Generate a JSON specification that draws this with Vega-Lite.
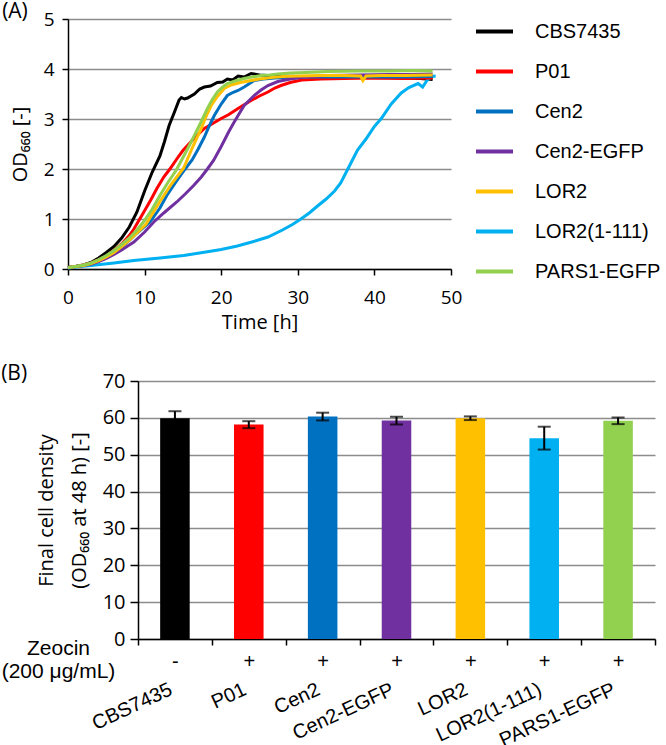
{
  "$schema": "https://vega.github.io/schema/vega-lite/v6.json",
  "padding": {"left": 1, "top": 1, "right": 0, "bottom": 0},
  "background": "white",
  "config": {
    "view": {"stroke": null},
    "font": "Open Sans",
    "axis": {"labelColor": "black", "titleColor": "black", "titleFontWeight": "normal", "domainColor": "black", "domainWidth": 1.5, "tickColor": "black", "tickWidth": 1.5, "gridColor": "#8c8c8c", "gridWidth": 1.5}
  },
  "datasets": {
    "growth": [
      {"strain":"CBS7435","time":0,"od":0.03},{"strain":"CBS7435","time":1,"od":0.05},{"strain":"CBS7435","time":2,"od":0.08},{"strain":"CBS7435","time":3,"od":0.13},{"strain":"CBS7435","time":4,"od":0.22},{"strain":"CBS7435","time":5,"od":0.33},{"strain":"CBS7435","time":6,"od":0.45},{"strain":"CBS7435","time":7,"od":0.62},{"strain":"CBS7435","time":8,"od":0.84},{"strain":"CBS7435","time":9,"od":1.14},{"strain":"CBS7435","time":10,"od":1.56},{"strain":"CBS7435","time":11,"od":1.94},{"strain":"CBS7435","time":12,"od":2.26},{"strain":"CBS7435","time":12.6,"od":2.55},{"strain":"CBS7435","time":13.2,"od":2.87},{"strain":"CBS7435","time":13.9,"od":3.14},{"strain":"CBS7435","time":14.5,"od":3.38},{"strain":"CBS7435","time":14.8,"od":3.43},{"strain":"CBS7435","time":15.2,"od":3.4},{"strain":"CBS7435","time":15.6,"od":3.42},{"strain":"CBS7435","time":16.5,"od":3.5},{"strain":"CBS7435","time":17.2,"od":3.6},{"strain":"CBS7435","time":17.8,"od":3.64},{"strain":"CBS7435","time":18.6,"od":3.66},{"strain":"CBS7435","time":19.5,"od":3.73},{"strain":"CBS7435","time":20.2,"od":3.74},{"strain":"CBS7435","time":20.8,"od":3.8},{"strain":"CBS7435","time":21.5,"od":3.78},{"strain":"CBS7435","time":22.2,"od":3.86},{"strain":"CBS7435","time":23,"od":3.84},{"strain":"CBS7435","time":23.9,"od":3.91},{"strain":"CBS7435","time":25,"od":3.88},{"strain":"CBS7435","time":27,"od":3.86},{"strain":"CBS7435","time":30,"od":3.85},{"strain":"CBS7435","time":33,"od":3.84},{"strain":"CBS7435","time":36,"od":3.83},{"strain":"CBS7435","time":40,"od":3.83},{"strain":"CBS7435","time":44,"od":3.82},{"strain":"CBS7435","time":46,"od":3.81},{"strain":"CBS7435","time":47.6,"od":3.79},
      {"strain":"LOR2(1-111)","time":0,"od":0.02},{"strain":"LOR2(1-111)","time":1,"od":0.04},{"strain":"LOR2(1-111)","time":3,"od":0.07},{"strain":"LOR2(1-111)","time":6,"od":0.12},{"strain":"LOR2(1-111)","time":8.6,"od":0.17},{"strain":"LOR2(1-111)","time":12,"od":0.22},{"strain":"LOR2(1-111)","time":15.1,"od":0.27},{"strain":"LOR2(1-111)","time":18,"od":0.34},{"strain":"LOR2(1-111)","time":20,"od":0.39},{"strain":"LOR2(1-111)","time":22.1,"od":0.46},{"strain":"LOR2(1-111)","time":24,"od":0.54},{"strain":"LOR2(1-111)","time":26.1,"od":0.64},{"strain":"LOR2(1-111)","time":28,"od":0.78},{"strain":"LOR2(1-111)","time":29.3,"od":0.89},{"strain":"LOR2(1-111)","time":30.4,"od":1.0},{"strain":"LOR2(1-111)","time":31.5,"od":1.12},{"strain":"LOR2(1-111)","time":32.5,"od":1.25},{"strain":"LOR2(1-111)","time":33.7,"od":1.4},{"strain":"LOR2(1-111)","time":34.8,"od":1.56},{"strain":"LOR2(1-111)","time":35.6,"od":1.72},{"strain":"LOR2(1-111)","time":36.7,"od":2.05},{"strain":"LOR2(1-111)","time":37.8,"od":2.38},{"strain":"LOR2(1-111)","time":38.9,"od":2.6},{"strain":"LOR2(1-111)","time":40,"od":2.85},{"strain":"LOR2(1-111)","time":40.9,"od":3.01},{"strain":"LOR2(1-111)","time":42.2,"od":3.3},{"strain":"LOR2(1-111)","time":43.5,"od":3.52},{"strain":"LOR2(1-111)","time":44.5,"od":3.63},{"strain":"LOR2(1-111)","time":45.7,"od":3.71},{"strain":"LOR2(1-111)","time":46.3,"od":3.64},{"strain":"LOR2(1-111)","time":46.9,"od":3.78},{"strain":"LOR2(1-111)","time":47.5,"od":3.85},{"strain":"LOR2(1-111)","time":48,"od":3.86},
      {"strain":"P01","time":0,"od":0.03},{"strain":"P01","time":1,"od":0.05},{"strain":"P01","time":2,"od":0.08},{"strain":"P01","time":3,"od":0.12},{"strain":"P01","time":4,"od":0.18},{"strain":"P01","time":5,"od":0.26},{"strain":"P01","time":6,"od":0.37},{"strain":"P01","time":7,"od":0.5},{"strain":"P01","time":8,"od":0.67},{"strain":"P01","time":8.6,"od":0.8},{"strain":"P01","time":9.9,"od":1.14},{"strain":"P01","time":10.8,"od":1.38},{"strain":"P01","time":11.6,"od":1.61},{"strain":"P01","time":12.5,"od":1.84},{"strain":"P01","time":13.3,"od":2.0},{"strain":"P01","time":14.2,"od":2.2},{"strain":"P01","time":15,"od":2.37},{"strain":"P01","time":15.6,"od":2.47},{"strain":"P01","time":16.5,"od":2.62},{"strain":"P01","time":17.8,"od":2.81},{"strain":"P01","time":19,"od":2.92},{"strain":"P01","time":20,"od":3.01},{"strain":"P01","time":21,"od":3.09},{"strain":"P01","time":22.2,"od":3.21},{"strain":"P01","time":23.9,"od":3.37},{"strain":"P01","time":25,"od":3.46},{"strain":"P01","time":26.1,"od":3.54},{"strain":"P01","time":27,"od":3.62},{"strain":"P01","time":27.8,"od":3.67},{"strain":"P01","time":29,"od":3.73},{"strain":"P01","time":30.5,"od":3.78},{"strain":"P01","time":33,"od":3.8},{"strain":"P01","time":36,"od":3.81},{"strain":"P01","time":40,"od":3.82},{"strain":"P01","time":44,"od":3.81},{"strain":"P01","time":47.6,"od":3.82},
      {"strain":"Cen2","time":0,"od":0.03},{"strain":"Cen2","time":1,"od":0.05},{"strain":"Cen2","time":2,"od":0.07},{"strain":"Cen2","time":3,"od":0.1},{"strain":"Cen2","time":4,"od":0.16},{"strain":"Cen2","time":5,"od":0.23},{"strain":"Cen2","time":6,"od":0.32},{"strain":"Cen2","time":7,"od":0.44},{"strain":"Cen2","time":8,"od":0.57},{"strain":"Cen2","time":9,"od":0.72},{"strain":"Cen2","time":10,"od":0.85},{"strain":"Cen2","time":10.7,"od":0.94},{"strain":"Cen2","time":12,"od":1.22},{"strain":"Cen2","time":12.9,"od":1.47},{"strain":"Cen2","time":14,"od":1.72},{"strain":"Cen2","time":15.2,"od":1.98},{"strain":"Cen2","time":16.2,"od":2.18},{"strain":"Cen2","time":17,"od":2.4},{"strain":"Cen2","time":17.8,"od":2.64},{"strain":"Cen2","time":18.5,"od":2.88},{"strain":"Cen2","time":19.1,"od":3.07},{"strain":"Cen2","time":20,"od":3.3},{"strain":"Cen2","time":20.8,"od":3.47},{"strain":"Cen2","time":21.5,"od":3.53},{"strain":"Cen2","time":22.2,"od":3.57},{"strain":"Cen2","time":23,"od":3.64},{"strain":"Cen2","time":23.6,"od":3.7},{"strain":"Cen2","time":24.3,"od":3.77},{"strain":"Cen2","time":25.5,"od":3.8},{"strain":"Cen2","time":27,"od":3.82},{"strain":"Cen2","time":30,"od":3.84},{"strain":"Cen2","time":35,"od":3.84},{"strain":"Cen2","time":40,"od":3.84},{"strain":"Cen2","time":44,"od":3.84},{"strain":"Cen2","time":47.6,"od":3.85},
      {"strain":"Cen2-EGFP","time":0,"od":0.03},{"strain":"Cen2-EGFP","time":1,"od":0.05},{"strain":"Cen2-EGFP","time":2,"od":0.07},{"strain":"Cen2-EGFP","time":3,"od":0.1},{"strain":"Cen2-EGFP","time":4,"od":0.15},{"strain":"Cen2-EGFP","time":5,"od":0.21},{"strain":"Cen2-EGFP","time":6,"od":0.29},{"strain":"Cen2-EGFP","time":7,"od":0.38},{"strain":"Cen2-EGFP","time":8,"od":0.48},{"strain":"Cen2-EGFP","time":8.6,"od":0.54},{"strain":"Cen2-EGFP","time":10,"od":0.74},{"strain":"Cen2-EGFP","time":11.2,"od":0.94},{"strain":"Cen2-EGFP","time":12.5,"od":1.12},{"strain":"Cen2-EGFP","time":14.2,"od":1.34},{"strain":"Cen2-EGFP","time":15.3,"od":1.5},{"strain":"Cen2-EGFP","time":16.4,"od":1.67},{"strain":"Cen2-EGFP","time":17.4,"od":1.84},{"strain":"Cen2-EGFP","time":18.2,"od":2.0},{"strain":"Cen2-EGFP","time":19,"od":2.17},{"strain":"Cen2-EGFP","time":20,"od":2.45},{"strain":"Cen2-EGFP","time":21,"od":2.75},{"strain":"Cen2-EGFP","time":21.7,"od":2.94},{"strain":"Cen2-EGFP","time":22.4,"od":3.12},{"strain":"Cen2-EGFP","time":23,"od":3.27},{"strain":"Cen2-EGFP","time":24.3,"od":3.47},{"strain":"Cen2-EGFP","time":25.2,"od":3.58},{"strain":"Cen2-EGFP","time":26.1,"od":3.67},{"strain":"Cen2-EGFP","time":27.4,"od":3.75},{"strain":"Cen2-EGFP","time":29,"od":3.8},{"strain":"Cen2-EGFP","time":31,"od":3.84},{"strain":"Cen2-EGFP","time":34,"od":3.87},{"strain":"Cen2-EGFP","time":38,"od":3.88},{"strain":"Cen2-EGFP","time":42,"od":3.89},{"strain":"Cen2-EGFP","time":45,"od":3.89},{"strain":"Cen2-EGFP","time":47.6,"od":3.9},
      {"strain":"LOR2","time":0,"od":0.03},{"strain":"LOR2","time":1,"od":0.05},{"strain":"LOR2","time":2,"od":0.07},{"strain":"LOR2","time":3,"od":0.11},{"strain":"LOR2","time":4,"od":0.17},{"strain":"LOR2","time":5,"od":0.24},{"strain":"LOR2","time":6,"od":0.33},{"strain":"LOR2","time":7,"od":0.45},{"strain":"LOR2","time":8,"od":0.58},{"strain":"LOR2","time":9,"od":0.72},{"strain":"LOR2","time":10.2,"od":0.9},{"strain":"LOR2","time":11,"od":1.1},{"strain":"LOR2","time":12,"od":1.35},{"strain":"LOR2","time":13.5,"od":1.7},{"strain":"LOR2","time":14.3,"od":1.86},{"strain":"LOR2","time":15.1,"od":2.02},{"strain":"LOR2","time":16.3,"od":2.45},{"strain":"LOR2","time":17.4,"od":2.81},{"strain":"LOR2","time":18.1,"od":3.08},{"strain":"LOR2","time":18.7,"od":3.27},{"strain":"LOR2","time":19.5,"od":3.45},{"strain":"LOR2","time":20.4,"od":3.61},{"strain":"LOR2","time":21.3,"od":3.68},{"strain":"LOR2","time":22.5,"od":3.73},{"strain":"LOR2","time":23.9,"od":3.77},{"strain":"LOR2","time":25,"od":3.8},{"strain":"LOR2","time":26.5,"od":3.83},{"strain":"LOR2","time":28,"od":3.85},{"strain":"LOR2","time":30,"od":3.86},{"strain":"LOR2","time":33,"od":3.87},{"strain":"LOR2","time":36,"od":3.87},{"strain":"LOR2","time":38.2,"od":3.86},{"strain":"LOR2","time":38.5,"od":3.77},{"strain":"LOR2","time":38.9,"od":3.86},{"strain":"LOR2","time":41,"od":3.87},{"strain":"LOR2","time":44,"od":3.87},{"strain":"LOR2","time":47.6,"od":3.88},
      {"strain":"PARS1-EGFP","time":0,"od":0.03},{"strain":"PARS1-EGFP","time":1,"od":0.05},{"strain":"PARS1-EGFP","time":2,"od":0.08},{"strain":"PARS1-EGFP","time":3,"od":0.12},{"strain":"PARS1-EGFP","time":4,"od":0.19},{"strain":"PARS1-EGFP","time":5,"od":0.27},{"strain":"PARS1-EGFP","time":6,"od":0.37},{"strain":"PARS1-EGFP","time":7,"od":0.49},{"strain":"PARS1-EGFP","time":8,"od":0.62},{"strain":"PARS1-EGFP","time":9,"od":0.78},{"strain":"PARS1-EGFP","time":9.9,"od":0.95},{"strain":"PARS1-EGFP","time":11,"od":1.2},{"strain":"PARS1-EGFP","time":12,"od":1.47},{"strain":"PARS1-EGFP","time":13,"od":1.72},{"strain":"PARS1-EGFP","time":14.1,"od":1.97},{"strain":"PARS1-EGFP","time":14.7,"od":2.14},{"strain":"PARS1-EGFP","time":15.6,"od":2.4},{"strain":"PARS1-EGFP","time":16.5,"od":2.67},{"strain":"PARS1-EGFP","time":17.4,"od":2.95},{"strain":"PARS1-EGFP","time":18.2,"od":3.21},{"strain":"PARS1-EGFP","time":18.8,"od":3.38},{"strain":"PARS1-EGFP","time":19.5,"od":3.54},{"strain":"PARS1-EGFP","time":20.2,"od":3.64},{"strain":"PARS1-EGFP","time":20.8,"od":3.71},{"strain":"PARS1-EGFP","time":21.8,"od":3.76},{"strain":"PARS1-EGFP","time":23,"od":3.81},{"strain":"PARS1-EGFP","time":24,"od":3.84},{"strain":"PARS1-EGFP","time":25.2,"od":3.87},{"strain":"PARS1-EGFP","time":26.3,"od":3.88},{"strain":"PARS1-EGFP","time":27.4,"od":3.9},{"strain":"PARS1-EGFP","time":29,"od":3.92},{"strain":"PARS1-EGFP","time":31,"od":3.93},{"strain":"PARS1-EGFP","time":34,"od":3.95},{"strain":"PARS1-EGFP","time":38,"od":3.96},{"strain":"PARS1-EGFP","time":42,"od":3.96},{"strain":"PARS1-EGFP","time":45,"od":3.97},{"strain":"PARS1-EGFP","time":47.6,"od":3.96}
    ],
    "final": [
      {"strain":"CBS7435","zeocin":"-","mean":59.9,"lo":58.0,"hi":61.8},
      {"strain":"P01","zeocin":"+","mean":58.2,"lo":57.2,"hi":59.1},
      {"strain":"Cen2","zeocin":"+","mean":60.4,"lo":59.3,"hi":61.4},
      {"strain":"Cen2-EGFP","zeocin":"+","mean":59.3,"lo":58.2,"hi":60.3},
      {"strain":"LOR2","zeocin":"+","mean":59.9,"lo":59.4,"hi":60.4},
      {"strain":"LOR2(1-111)","zeocin":"+","mean":54.5,"lo":51.4,"hi":57.6},
      {"strain":"PARS1-EGFP","zeocin":"+","mean":59.2,"lo":58.3,"hi":60.1}
    ]
  },
  "vconcat": [
    {
      "width": 383,
      "height": 250,
      "title": {"text": "(A)", "anchor": "start", "fontSize": 21, "fontWeight": "normal", "font": "Open Sans", "color": "black", "offset": 0, "dx": -8, "dy": 12},
      "data": {"name": "growth"},
      "mark": {"type": "line", "strokeWidth": 3},
      "encoding": {
        "x": {"field": "time", "type": "quantitative", "scale": {"domain": [0, 50], "nice": false},
          "axis": {"values": [0, 10, 20, 30, 40, 50], "grid": false, "tickSize": 6, "labelFontSize": 19, "labelPadding": 13, "labelFlush": false, "title": "Time [h]", "titleFontSize": 20, "titlePadding": 5}},
        "y": {"field": "od", "type": "quantitative", "scale": {"domain": [0, 5], "nice": false},
          "axis": {"values": [0, 1, 2, 3, 4, 5], "grid": true, "tickSize": 6, "labelFontSize": 19, "labelPadding": 8, "labelFlush": false, "title": "OD₆₆₀ [-]", "titleFontSize": 20, "titlePadding": 13}},
        "color": {"field": "strain", "type": "nominal",
          "scale": {"domain": ["CBS7435", "P01", "Cen2", "Cen2-EGFP", "LOR2", "LOR2(1-111)", "PARS1-EGFP"], "range": ["#000000", "#FF0000", "#0070C0", "#7030A0", "#FFC000", "#00B0F0", "#92D050"]},
          "legend": {"title": null, "orient": "none", "legendX": 406, "legendY": -8, "padding": 0, "symbolType": "stroke", "symbolSize": 1369, "symbolStrokeWidth": 4, "labelFont": "Liberation Sans", "labelFontSize": 20, "labelColor": "black", "labelOffset": 20, "rowPadding": 9, "labelLimit": 200}}
      }
    },
    {
      "width": 587,
      "height": 258,
      "title": {"text": "(B)", "anchor": "start", "fontSize": 21, "fontWeight": "normal", "font": "Open Sans", "color": "black", "offset": 0, "dy": 13},
      "data": {"name": "final"},
      "layer": [
        {
          "mark": {"type": "bar", "width": {"band": 0.4}},
          "encoding": {
            "x": {"field": "strain", "type": "nominal", "sort": null, "scale": {"paddingInner": 0, "paddingOuter": 0, "range": [70, 587]},
              "axis": {"orient": "bottom", "tickBand": "extent", "tickSize": 6, "grid": false, "labelAngle": 0, "labelExpr": "datum.value == 'CBS7435' ? '-' : (datum.value ? '+' : '')", "labelFont": "Liberation Sans", "labelFontSize": 20, "labelPadding": 6, "labelBaseline": "top",
                "title": ["Zeocin", "(200 μg/mL)"], "titleX": -10, "titleY": -2, "titleAlign": "center", "titleBaseline": "top", "titleAngle": 0, "titleFont": "Liberation Sans", "titleFontSize": 21, "titleLineHeight": 23}},
            "y": {"field": "mean", "type": "quantitative", "scale": {"domain": [0, 70], "nice": false},
              "axis": {"offset": -70, "values": [0, 10, 20, 30, 40, 50, 60, 70], "labelOverlap": false, "grid": true, "tickSize": 8, "labelFontSize": 20, "labelPadding": 5, "title": ["Final cell density", "(OD₆₆₀ at 48 h) [-]"], "titleFontSize": 20, "titleLineHeight": 33, "titlePadding": 13}},
            "color": {"field": "strain", "type": "nominal", "legend": null,
              "scale": {"domain": ["CBS7435", "P01", "Cen2", "Cen2-EGFP", "LOR2", "LOR2(1-111)", "PARS1-EGFP"], "range": ["#000000", "#FF0000", "#0070C0", "#7030A0", "#FFC000", "#00B0F0", "#92D050"]}}
          }
        },
        {
          "mark": {"type": "rule", "color": "black", "strokeWidth": 2},
          "encoding": {
            "x": {"field": "strain", "type": "nominal", "sort": null,
              "axis": {"orient": "bottom", "domain": false, "ticks": false, "grid": false, "labelAngle": -25, "labelAlign": "right", "labelBaseline": "top", "labelPadding": 40, "labelOffset": -8, "labelFont": "Liberation Sans", "labelFontSize": 20, "labelLimit": 300, "labelOverlap": false, "title": null}},
            "y": {"field": "lo", "type": "quantitative",
              "axis": {"offset": -70, "values": [0, 10, 20, 30, 40, 50, 60, 70], "labelOverlap": false, "grid": true, "tickSize": 8, "labelFontSize": 20, "labelPadding": 5, "title": ["Final cell density", "(OD₆₆₀ at 48 h) [-]"], "titleFontSize": 20, "titleLineHeight": 33, "titlePadding": 13}},
            "y2": {"field": "hi"}
          }
        },
        {
          "mark": {"type": "tick", "color": "black", "thickness": 2, "size": 13},
          "encoding": {
            "x": {"field": "strain", "type": "nominal", "sort": null, "axis": null},
            "y": {"field": "hi", "type": "quantitative",
              "axis": {"offset": -70, "values": [0, 10, 20, 30, 40, 50, 60, 70], "labelOverlap": false, "grid": true, "tickSize": 8, "labelFontSize": 20, "labelPadding": 5, "title": ["Final cell density", "(OD₆₆₀ at 48 h) [-]"], "titleFontSize": 20, "titleLineHeight": 33, "titlePadding": 13}}
          }
        },
        {
          "mark": {"type": "tick", "color": "black", "thickness": 2, "size": 13},
          "encoding": {
            "x": {"field": "strain", "type": "nominal", "sort": null, "axis": null},
            "y": {"field": "lo", "type": "quantitative",
              "axis": {"offset": -70, "values": [0, 10, 20, 30, 40, 50, 60, 70], "labelOverlap": false, "grid": true, "tickSize": 8, "labelFontSize": 20, "labelPadding": 5, "title": ["Final cell density", "(OD₆₆₀ at 48 h) [-]"], "titleFontSize": 20, "titleLineHeight": 33, "titlePadding": 13}}
          }
        }
      ],
      "resolve": {"axis": {"x": "independent"}}
    }
  ],
  "spacing": 31,
  "resolve": {"scale": {"color": "independent", "x": "independent", "y": "independent"}, "legend": {"color": "independent"}}
}
